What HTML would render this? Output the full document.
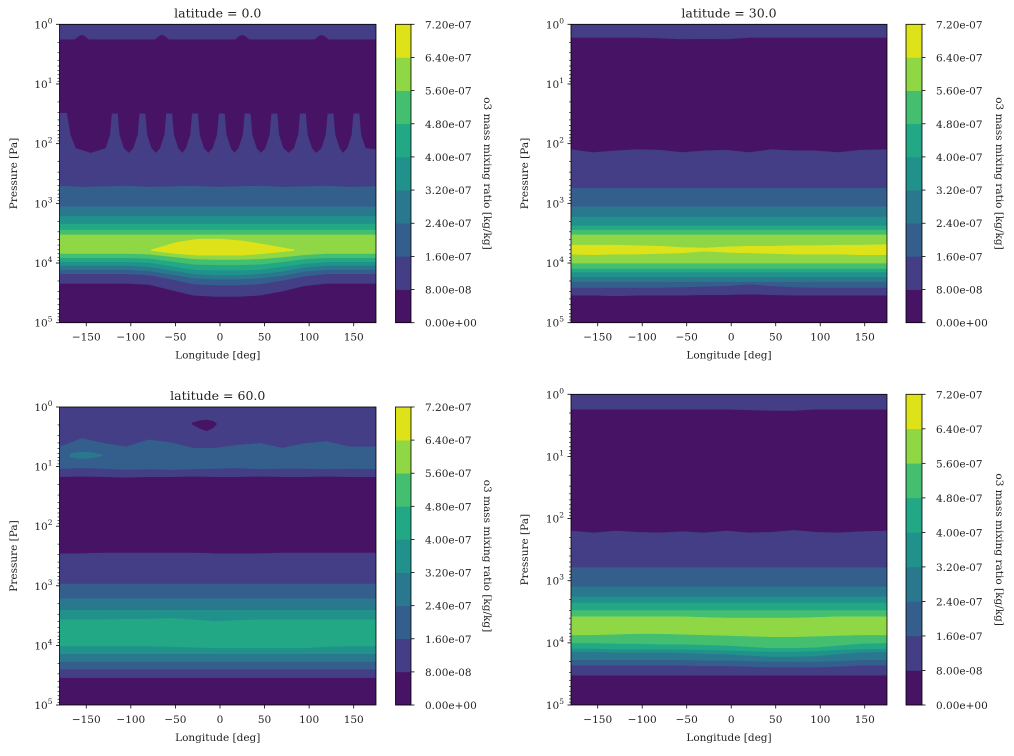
<!DOCTYPE html>
<html><head><meta charset="utf-8">
<style>
html,body{margin:0;padding:0;background:#fff;}
svg{display:block;font-family:"DejaVu Serif","Liberation Serif",serif;}
</style></head>
<body>
<svg id="fig" width="1014" height="756" viewBox="0 0 1014 756" xmlns="http://www.w3.org/2000/svg"></svg>
<script>
// ---- shared data ----
const levels = ["0.00e+00","8.00e-08","1.60e-07","2.40e-07","3.20e-07","4.00e-07","4.80e-07","5.60e-07","6.40e-07","7.20e-07"];
const bandColors = ['#471365','#433e85','#345f8d','#2a788e','#21918c','#22a884','#44bf70','#8fd744','#dde318'];
const xTicks = [-150,-100,-50,0,50,100,150];
const yDecades = [0,1,2,3,4,5];
const LON = [-180,-155,-130,-105,-80,-55,-30,-5,20,45,70,95,120,145,175];
const ENDS = [-180,175];

// ---- panel 1 (lat 0) ----
const p1CapLon = [-180,-163,-159,-155,-151,-147,-73,-69,-65,-61,-57,17,21,25,29,33,106,110,114,118,122,175];
const p1CapTop = [0,0,0,0,0,0,0,0,0,0,0,0,0,0,0,0,0,0,0,0,0,0];
const p1CapBot = [0.25,0.25,0.20,0.17,0.20,0.25,0.25,0.20,0.17,0.20,0.25,0.25,0.20,0.17,0.20,0.25,0.25,0.20,0.17,0.20,0.25,0.25];
const p1SpikeLon = [-180,-172,-168,-162,-145,-128,-123,-121,-115,-113,-108,-102,-97,-92,-90,-84,-82,-77,-72,-67,-62,-60,-54,-52,-47,-42,-38,-33,-31,-25,-23,-18,-13,-8,-3,-1,5,7,12,16,21,26,28,34,36,41,46,51,56,58,64,66,71,77,83,88,90,96,98,103,108,114,119,121,127,129,134,138,143,148,150,156,158,163,175];
const p1K1Top = [1.49,1.49,1.85,2.08,2.16,2.08,1.85,1.5,1.5,1.85,2.08,2.16,2.08,1.85,1.5,1.5,1.85,2.08,2.16,2.08,1.85,1.5,1.5,1.85,2.08,2.16,2.08,1.85,1.5,1.5,1.85,2.08,2.16,2.08,1.85,1.5,1.5,1.85,2.08,2.16,2.08,1.85,1.5,1.5,1.85,2.08,2.16,2.08,1.85,1.5,1.5,1.85,2.08,2.16,2.08,1.85,1.5,1.5,1.85,2.08,2.16,2.08,1.85,1.5,1.5,1.85,2.08,2.16,2.08,1.85,1.5,1.5,1.85,2.08,2.1];
const p1K1Bot = [4.34,4.34,4.34,4.34,4.36,4.45,4.54,4.56,4.56,4.54,4.47,4.38,4.34,4.34,4.34];
const p1K2Top = [2.71,2.73,2.72,2.71,2.73,2.72,2.71,2.73,2.72,2.71,2.73,2.72,2.71,2.73,2.72];
const p1K2Bot = [4.18,4.18,4.18,4.18,4.20,4.27,4.35,4.37,4.37,4.35,4.29,4.22,4.18,4.18,4.18];
const p1K3Top = [3.06,3.06];
const p1K3Bot = [4.11,4.11,4.11,4.11,4.13,4.19,4.25,4.27,4.27,4.25,4.21,4.14,4.11,4.11,4.11];
const p1K4Top = [3.22,3.22];
const p1K4Bot = [4.04,4.04,4.04,4.04,4.06,4.12,4.18,4.20,4.20,4.18,4.14,4.07,4.04,4.04,4.04];
const p1K5Top = [3.35,3.35];
const p1K5Bot = [3.98,3.98,3.98,3.98,3.99,4.05,4.11,4.12,4.12,4.11,4.06,4.01,3.98,3.98,3.98];
const p1K6Top = [3.45,3.45];
const p1K6Bot = [3.91,3.91,3.91,3.91,3.92,3.97,4.02,4.03,4.03,4.02,3.98,3.93,3.91,3.91,3.91];
const p1K7Top = [3.53,3.53];
const p1K7Bot = [3.84,3.84,3.84,3.84,3.85,3.89,3.93,3.94,3.94,3.93,3.90,3.86,3.84,3.84,3.84];
const p1K8Lon = [-77,-50,-25,0,25,50,83];
const p1K8Top = [3.78,3.66,3.60,3.60,3.63,3.69,3.78];
const p1K8Bot = [3.79,3.84,3.87,3.87,3.87,3.84,3.79];

// ---- panel 2 (lat 30) ----
const p2CapTop = [0,0];
const p2CapBot = [0.22,0.22,0.22,0.22,0.23,0.245,0.24,0.245,0.22,0.22,0.22,0.22,0.22,0.22,0.22];
const p2K1Top = [2.10,2.15,2.12,2.10,2.11,2.15,2.12,2.11,2.15,2.10,2.12,2.12,2.15,2.11,2.10];
const p2K1Bot = [4.54,4.54,4.55,4.54,4.54,4.54,4.53,4.53,4.52,4.53,4.54,4.54,4.54,4.54,4.54];
const p2K2Top = [2.75,2.75];
const p2K2Bot = [4.41,4.41,4.41,4.41,4.41,4.40,4.39,4.38,4.35,4.38,4.40,4.41,4.41,4.41,4.41];
const p2K3Top = [3.06,3.06];
const p2K3Bot = [4.31,4.31];
const p2K4Top = [3.23,3.23];
const p2K4Bot = [4.23,4.23];
const p2K5Top = [3.38,3.38];
const p2K5Bot = [4.15,4.15];
const p2K6Top = [3.45,3.45];
const p2K6Bot = [4.09,4.09];
const p2K7Top = [3.53,3.53];
const p2K7Bot = [4.00,4.00];
const p2K8Top = [3.70,3.70,3.70,3.71,3.72,3.74,3.75,3.73,3.72,3.72,3.71,3.71,3.70,3.70,3.69];
const p2K8Bot = [3.85,3.86,3.85,3.85,3.84,3.83,3.80,3.82,3.83,3.84,3.85,3.85,3.85,3.86,3.86];

// ---- panel 3 (lat 60) ----
const p3CapTop = [0,0];
const p3CapBot = [1.17,1.16,1.17,1.18,1.17,1.17,1.16,1.17,1.17,1.16,1.17,1.17,1.16,1.17,1.17];
const p3HoleLon = [-31,-22,-15,-8,-4];
const p3HoleTop = [0.27,0.23,0.22,0.24,0.28];
const p3HoleBot = [0.29,0.36,0.40,0.35,0.29];
const p3UpK2Top = [0.67,0.53,0.61,0.67,0.55,0.60,0.69,0.69,0.64,0.61,0.69,0.61,0.58,0.67,0.67];
const p3UpK2Bot = [1.03,1.02,1.03,1.05,1.04,1.05,1.04,1.03,1.02,1.04,1.03,1.03,1.04,1.03,1.04];
const p3UpK3Lon = [-168,-158,-148,-138,-132];
const p3UpK3Top = [0.78,0.76,0.76,0.78,0.80];
const p3UpK3Bot = [0.84,0.86,0.86,0.84,0.81];
const p3K1Top = [2.46,2.46,2.45,2.45,2.45,2.45,2.45,2.46,2.46,2.46,2.45,2.45,2.45,2.45,2.45];
const p3K1Bot = [4.54,4.54];
const p3K2Top = [2.97,2.97];
const p3K2Bot = [4.40,4.40];
const p3K3Top = [3.22,3.22];
const p3K3Bot = [4.27,4.27];
const p3K4Top = [3.41,3.41];
const p3K4Bot = [4.14,4.14];
const p3K5Top = [3.57,3.57,3.57,3.56,3.56,3.55,3.57,3.60,3.58,3.57,3.57,3.57,3.57,3.57,3.57];
const p3K5Bot = [4.01,4.01,4.01,4.01,4.01,4.02,4.03,4.04,4.04,4.04,4.04,4.04,4.02,4.01,4.01];

// ---- panel 4 ----
const p4CapTop = [0,0];
const p4CapBot = [0.24,0.24,0.24,0.24,0.24,0.24,0.24,0.24,0.25,0.26,0.26,0.24,0.24,0.24,0.24];
const p4K1Top = [2.20,2.23,2.20,2.22,2.23,2.21,2.23,2.20,2.23,2.22,2.19,2.22,2.23,2.21,2.20];
const p4K1Bot = [4.52,4.52];
const p4K2Top = [2.79,2.79];
const p4K2Bot = [4.36,4.36,4.36,4.36,4.36,4.36,4.37,4.37,4.38,4.39,4.39,4.39,4.38,4.36,4.36];
const p4K3Top = [3.10,3.10];
const p4K3Bot = [4.27,4.27,4.27,4.27,4.27,4.27,4.28,4.28,4.29,4.30,4.30,4.30,4.29,4.27,4.27];
const p4K4Top = [3.26,3.26];
const p4K4Bot = [4.14,4.14,4.15,4.15,4.15,4.16,4.17,4.18,4.20,4.22,4.22,4.21,4.18,4.15,4.14];
const p4K5Top = [3.36,3.36];
const p4K5Bot = [4.09,4.09,4.10,4.10,4.10,4.10,4.11,4.12,4.13,4.14,4.14,4.13,4.11,4.10,4.09];
const p4K6Top = [3.48,3.48];
const p4K6Bot = [4.00,4.00,4.01,4.01,4.02,4.02,4.03,4.04,4.06,4.08,4.08,4.07,4.04,4.01,4.00];
const p4K7Top = [3.58,3.58,3.58,3.58,3.58,3.58,3.59,3.60,3.60,3.60,3.60,3.59,3.58,3.58,3.58];
const p4K7Bot = [3.87,3.87,3.86,3.85,3.85,3.86,3.87,3.88,3.89,3.90,3.90,3.89,3.88,3.87,3.87];

const NS = 'http://www.w3.org/2000/svg';
const svg = document.getElementById('fig');
function mk(tag, attrs, parent){
  const e = document.createElementNS(NS, tag);
  for (const k in attrs) e.setAttribute(k, attrs[k]);
  (parent||svg).appendChild(e);
  return e;
}

const panels = [
  {id:'p1', title:'latitude = 0.0', x0:59.5, x1:376, y0:24.3, y1:322.7, cb0:395.5, cb1:411, ylab:14, cblab:487,
   regions:[[1,p1CapLon,p1CapTop,p1CapBot],[1,p1SpikeLon,p1K1Top,LON,p1K1Bot],[2,LON,p1K2Top,LON,p1K2Bot],[3,ENDS,p1K3Top,LON,p1K3Bot],[4,ENDS,p1K4Top,LON,p1K4Bot],[5,ENDS,p1K5Top,LON,p1K5Bot],[6,ENDS,p1K6Top,LON,p1K6Bot],[7,ENDS,p1K7Top,LON,p1K7Bot],[8,p1K8Lon,p1K8Top,p1K8Lon,p1K8Bot]]},
  {id:'p2', title:'latitude = 30.0', x0:571, x1:887, y0:24.3, y1:322.7, cb0:906, cb1:922, ylab:525, cblab:999,
   regions:[[1,ENDS,p2CapTop,LON,p2CapBot],[1,LON,p2K1Top,LON,p2K1Bot],[2,ENDS,p2K2Top,LON,p2K2Bot],[3,ENDS,p2K3Top,ENDS,p2K3Bot],[4,ENDS,p2K4Top,ENDS,p2K4Bot],[5,ENDS,p2K5Top,ENDS,p2K5Bot],[6,ENDS,p2K6Top,ENDS,p2K6Bot],[7,ENDS,p2K7Top,ENDS,p2K7Bot],[8,LON,p2K8Top,LON,p2K8Bot]]},
  {id:'p3', title:'latitude = 60.0', x0:59.5, x1:376, y0:407, y1:705, cb0:395.5, cb1:411, ylab:14, cblab:487,
   regions:[[1,ENDS,p3CapTop,LON,p3CapBot],[0,p3HoleLon,p3HoleTop,p3HoleLon,p3HoleBot],[2,LON,p3UpK2Top,LON,p3UpK2Bot],[3,p3UpK3Lon,p3UpK3Top,p3UpK3Lon,p3UpK3Bot],[1,LON,p3K1Top,ENDS,p3K1Bot],[2,ENDS,p3K2Top,ENDS,p3K2Bot],[3,ENDS,p3K3Top,ENDS,p3K3Bot],[4,ENDS,p3K4Top,ENDS,p3K4Bot],[5,LON,p3K5Top,LON,p3K5Bot]]},
  {id:'p4', title:'', x0:571, x1:887, y0:394.3, y1:705, cb0:906, cb1:922, ylab:525, cblab:999,
   regions:[[1,ENDS,p4CapTop,LON,p4CapBot],[1,LON,p4K1Top,ENDS,p4K1Bot],[2,ENDS,p4K2Top,LON,p4K2Bot],[3,ENDS,p4K3Top,LON,p4K3Bot],[4,ENDS,p4K4Top,LON,p4K4Bot],[5,ENDS,p4K5Top,LON,p4K5Bot],[6,ENDS,p4K6Top,LON,p4K6Bot],[7,LON,p4K7Top,LON,p4K7Bot]]}
];

panels.forEach((P, pi) => {
  const xs = lon => P.x0 + (lon + 180) / 355 * (P.x1 - P.x0);
  const ys = lp => P.y0 + lp / 5 * (P.y1 - P.y0);
  const g = mk('g', {});
  
  
  const clipId = 'clip' + pi;
  const cp = mk('clipPath', {id: clipId}, g);
  mk('rect', {x:P.x0, y:P.y0, width:P.x1-P.x0, height:P.y1-P.y0}, cp);
  const plot = mk('g', {'clip-path':'url(#'+clipId+')'}, g);
  
  
  const bg = mk('rect', {x:P.x0, y:P.y0, width:P.x1-P.x0, height:P.y1-P.y0, fill:bandColors[0]}, plot);
  
  
  P.regions.forEach(r => {
    let lvl, tl, tv, bl, bv;
    if (r.length === 4) { lvl=r[0]; tl=r[1]; tv=r[2]; bl=r[1]; bv=r[3]; }
    else { lvl=r[0]; tl=r[1]; tv=r[2]; bl=r[3]; bv=r[4]; }
    const pts = [];
    tl.forEach((l,i) => pts.push(xs(l).toFixed(2)+','+ys(tv[i]).toFixed(2)));
    for (let i = bl.length-1; i >= 0; i--) pts.push(xs(bl[i]).toFixed(2)+','+ys(bv[i]).toFixed(2));
    const poly = mk('polygon', {points: pts.join(' '), fill: bandColors[lvl], stroke: bandColors[lvl], 'stroke-width':0.6}, plot);
    
    
  });
  const frame = mk('rect', {x:P.x0, y:P.y0, width:P.x1-P.x0, height:P.y1-P.y0, fill:'none', stroke:'#000', 'stroke-width':0.8}, g);
  
  
  xTicks.forEach(v => {
    const x = xs(v);
    mk('line', {x1:x, x2:x, y1:P.y1, y2:P.y1+3.5, stroke:'#000', 'stroke-width':0.8}, g);
    const t = mk('text', {x:x, y:P.y1+18, 'font-size':10.5, 'text-anchor':'middle', fill:'#222'}, g);
    t.textContent = (v < 0 ? '\u2212' + Math.abs(v) : String(v));
    
    
  });
  yDecades.forEach(d => {
    const y = ys(d);
    mk('line', {x1:P.x0-3.5, x2:P.x0, y1:y, y2:y, stroke:'#000', 'stroke-width':0.8}, g);
    const t = mk('text', {x:P.x0-7, y:y+4, 'font-size':10.5, 'text-anchor':'end', fill:'#222'}, g);
    const a = mk('tspan', {}, t); a.textContent = '10';
    const b = mk('tspan', {'font-size':7.5, dy:-5}, t); b.textContent = String(d);
    
    
    if (d < 5) for (let m = 2; m <= 9; m++) {
      const ym = ys(d + Math.log10(m));
      mk('line', {x1:P.x0-2, x2:P.x0, y1:ym, y2:ym, stroke:'#000', 'stroke-width':0.6}, g);
    }
  });
  if (P.title) {
    const t = mk('text', {x:(P.x0+P.x1)/2, y:P.y0-7, 'font-size':12.5, 'text-anchor':'middle', fill:'#222'}, g);
    t.textContent = P.title;
    
    
  }
  const xl = mk('text', {x:(P.x0+P.x1)/2, y:P.y1+36, 'font-size':10.5, 'text-anchor':'middle', fill:'#222'}, g);
  xl.textContent = 'Longitude [deg]';
  
  
  const ym = (P.y0+P.y1)/2;
  const yl = mk('text', {x:P.ylab, y:ym, 'font-size':10.5, 'text-anchor':'middle', fill:'#222', transform:'rotate(-90 '+P.ylab+' '+ym+')', 'dominant-baseline':'middle'}, g);
  yl.textContent = 'Pressure [Pa]';
  
  
  const cb = mk('g', {}, g);
  
  
  const nb = bandColors.length, h = (P.y1 - P.y0) / nb;
  bandColors.forEach((c, i) => {
    const r = mk('rect', {x:P.cb0, y:P.y1 - (i+1)*h, width:P.cb1-P.cb0, height:h+0.3, fill:c}, cb);
    
    
  });
  mk('rect', {x:P.cb0, y:P.y0, width:P.cb1-P.cb0, height:P.y1-P.y0, fill:'none', stroke:'#000', 'stroke-width':0.8}, cb);
  levels.forEach((lab, i) => {
    const y = P.y1 - i*h;
    mk('line', {x1:P.cb1, x2:P.cb1+3.5, y1:y, y2:y, stroke:'#000', 'stroke-width':0.8}, cb);
    const t = mk('text', {x:P.cb1+14, y:y+4, 'font-size':10.5, fill:'#222'}, cb);
    t.textContent = lab;
    
    
  });
  const cl = mk('text', {x:P.cblab, y:ym, 'font-size':10.5, 'text-anchor':'middle', fill:'#222', transform:'rotate(90 '+P.cblab+' '+ym+')', 'dominant-baseline':'middle'}, cb);
  cl.textContent = 'o3 mass mixing ratio [kg/kg]';
  
  
});
</script>
</body></html>
